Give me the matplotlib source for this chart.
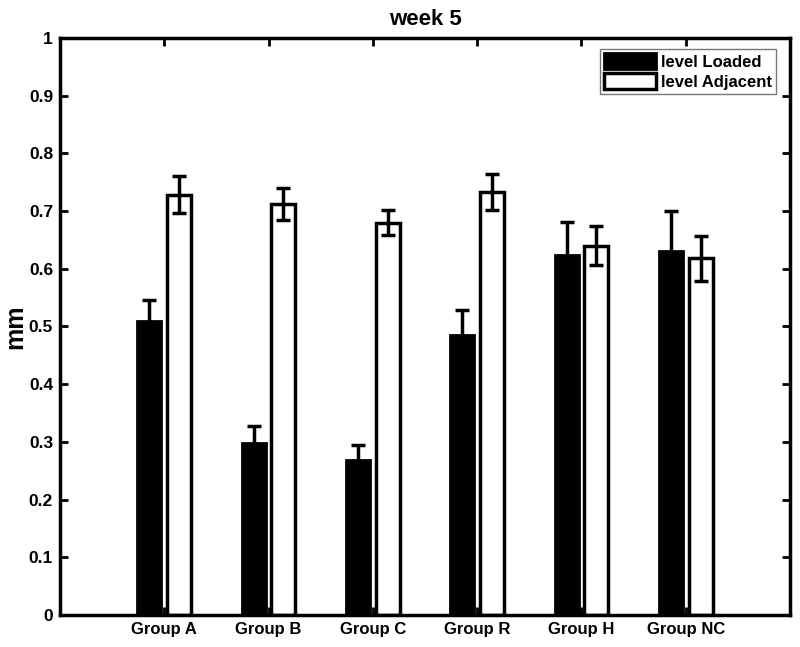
import numpy as np
from matplotlib import pyplot as plt

plt.rcParams['font.family'] = ['Liberation Sans', 'DejaVu Sans']
plt.rcParams['font.weight'] = 'bold'

groups = ["Group A", "Group B", "Group C", "Group R", "Group H", "Group NC"]
loaded = [0.510, 0.298, 0.268, 0.485, 0.623, 0.630]
loaded_err = [0.035, 0.030, 0.027, 0.044, 0.058, 0.070]
adjacent = [0.728, 0.712, 0.680, 0.733, 0.640, 0.618]
adjacent_err = [0.032, 0.027, 0.022, 0.031, 0.034, 0.039]

fig = plt.figure(figsize=(8, 6.47), dpi=100)
ax = fig.add_axes([0.075, 0.0495, 0.9125, 0.892])

x = np.arange(1, len(groups) + 1)
w = 0.23
off = 0.143

ax.bar(x - off, loaded, w, color='black', edgecolor='black', linewidth=2,
       label='level Loaded', zorder=2)
ax.bar(x + off, adjacent, w, color='white', edgecolor='black', linewidth=2.5,
       label='level Adjacent', zorder=2)
ax.errorbar(x - off, loaded, yerr=loaded_err, fmt='none', ecolor='black',
            elinewidth=2.5, capsize=5, capthick=2.5, zorder=3)
ax.errorbar(x + off, adjacent, yerr=adjacent_err, fmt='none', ecolor='black',
            elinewidth=2.5, capsize=5, capthick=2.5, zorder=3)

ax.set_xlim(0, 7)
ax.set_ylim(0, 1)
ax.set_xticks(x)
ax.set_xticklabels(groups, fontsize=12, fontweight='bold')
ax.set_yticks(np.arange(0, 1.01, 0.1))
ax.set_yticklabels(['0'] + ['%.1f' % v for v in np.arange(0.1, 1.01, 0.1)[:-1]] + ['1'],
                   fontsize=12.5, fontweight='bold')
ax.tick_params(direction='in', length=6, width=2, top=True, right=True, pad=5)
for s in ax.spines.values():
    s.set_linewidth(2.5)

ax.set_title("week 5", fontsize=16, fontweight='bold', pad=9)
ax.set_ylabel("mm", fontsize=18, fontweight='bold', va='center')
ax.yaxis.set_label_coords(-0.061, 0.5)

leg = ax.legend(loc='upper right', fontsize=12, frameon=True, fancybox=False,
                bbox_to_anchor=(0.981, 0.981), borderaxespad=0,
                handlelength=3.1, handleheight=1.1, handletextpad=0.3,
                borderpad=0.25, labelspacing=0.2)
leg.get_frame().set_edgecolor('#555555')
leg.get_frame().set_linewidth(1)

fig.savefig('out.png', dpi=100)
